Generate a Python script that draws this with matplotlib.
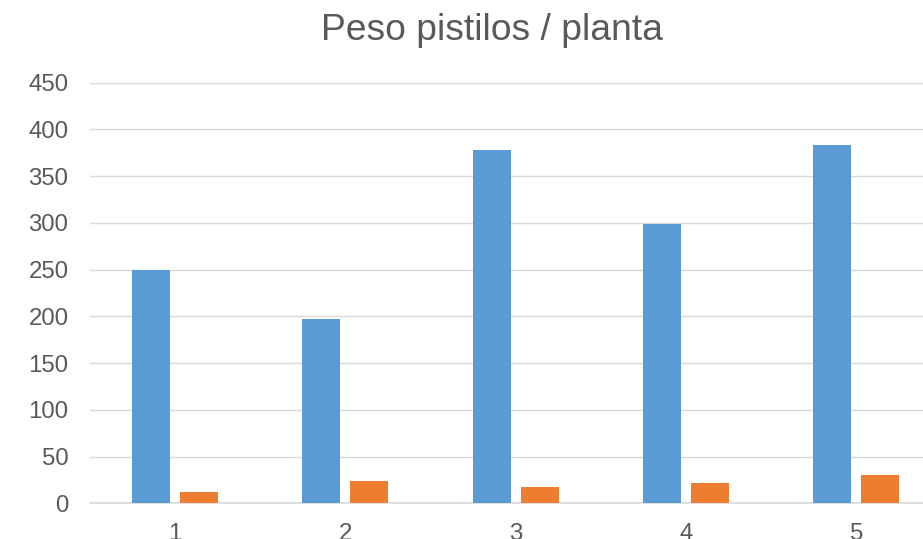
import numpy as np
import matplotlib.pyplot as plt

plt.rcParams['font.family'] = ['Liberation Sans', 'DejaVu Sans']

# datos por planta
plantas = ['1', '2', '3', '4', '5']
serie_azul = [250, 197, 378, 299, 383]
serie_naranja = [12, 24, 17, 22, 30]

gris = '#595959'
x = np.arange(len(plantas))
ancho = 0.223
desp = 0.141

fig = plt.figure(figsize=(9.23, 5.39), dpi=100)
ax = fig.add_axes([0.0975, 0.0662, 0.9225, 0.7804])

ax.bar(x - desp, serie_azul, ancho, color='#5B9BD5', zorder=3)
ax.bar(x + desp, serie_naranja, ancho, color='#ED7D31', zorder=3)

ax.set_xlim(-0.5, 4.5)
ax.set_ylim(0, 450)
ax.set_yticks(range(0, 451, 50))
ax.set_xticks(x)
ax.set_xticklabels(plantas)
ax.grid(axis='y', color='#D9D9D9', linewidth=1.0, zorder=0)

for s in ['top', 'right', 'left']:
    ax.spines[s].set_visible(False)
ax.spines['bottom'].set_color('#D9D9D9')
ax.spines['bottom'].set_linewidth(1.2)

ax.tick_params(axis='y', length=0, pad=15.5, labelsize=17.3, labelcolor=gris)
ax.tick_params(axis='x', length=0, pad=14.3, labelsize=17.3, labelcolor=gris)

fig.text(492 / 923, 1 - 40 / 539, 'Peso pistilos / planta', ha='center',
         va='baseline', fontsize=26.8, color=gris)

fig.savefig('out.png', dpi=100)
